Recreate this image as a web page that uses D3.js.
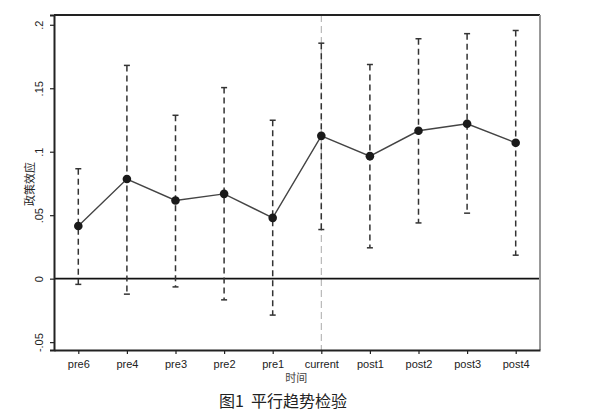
<!DOCTYPE html>
<html><head><meta charset="utf-8">
<script src="https://cdn.jsdelivr.net/npm/d3@7"></script>
<style>body{margin:0;background:#fff}</style>
</head><body><svg id="c" width="600" height="417"></svg>
<script>
const categories = ["pre6","pre4","pre3","pre2","pre1","current","post1","post2","post3","post4"];
const estimates = [0.0415,0.0785,0.0616,0.0668,0.0479,0.1125,0.0965,0.1165,0.122,0.107];
const upperCI = [0.0866,0.168,0.1287,0.1505,0.1248,0.1855,0.1687,0.189,0.193,0.1955];
const lowerCI = [-0.0045,-0.0122,-0.0065,-0.0167,-0.0287,0.0387,0.0243,0.0439,0.0516,0.0185];
const yTicks = [-0.05,0,0.05,0.1,0.15,0.2];
const yTickLabels = ["-.05","0",".05",".1",".15",".2"];
const yLabel = "政策效应";
const xLabel = "时间";
const caption = "图1  平行趋势检验";

const svg = d3.select("#c");
const L=54, R=540, T=15, B=350;
const x = d3.scalePoint().domain(categories).range([L,R]).padding(0.5);
const y = d3.scaleLinear().domain([-0.0562,0.2077]).range([B,T]);
const font = "'Liberation Sans', Arial, sans-serif";
const cjk = "'Noto Sans CJK SC', sans-serif";

// vertical reference line at current
svg.append("line").attr("x1",x("current")).attr("x2",x("current")).attr("y1",T).attr("y2",B)
  .attr("stroke","#aaa").attr("stroke-width",1).attr("stroke-dasharray","7,4");

// zero line
svg.append("line").attr("x1",L).attr("x2",R).attr("y1",y(0)).attr("y2",y(0))
  .attr("stroke","#111").attr("stroke-width",1.6);

const data = categories.map((c,i)=>({c, e:estimates[i], lo:lowerCI[i], hi:upperCI[i]}));

// CI bars
const g = svg.append("g");
g.selectAll(".ci").data(data).enter().append("line")
  .attr("x1",d=>x(d.c)).attr("x2",d=>x(d.c)).attr("y1",d=>y(d.hi)).attr("y2",d=>y(d.lo))
  .attr("stroke","#333").attr("stroke-width",1.5).attr("stroke-dasharray","6,4");
g.selectAll(".capt").data(data).enter().append("line")
  .attr("x1",d=>x(d.c)-3).attr("x2",d=>x(d.c)+3).attr("y1",d=>y(d.hi)).attr("y2",d=>y(d.hi))
  .attr("stroke","#333").attr("stroke-width",1.5);
g.selectAll(".capb").data(data).enter().append("line")
  .attr("x1",d=>x(d.c)-3).attr("x2",d=>x(d.c)+3).attr("y1",d=>y(d.lo)).attr("y2",d=>y(d.lo))
  .attr("stroke","#333").attr("stroke-width",1.5);

// connecting line
svg.append("path").datum(data)
  .attr("d", d3.line().x(d=>x(d.c)).y(d=>y(d.e)))
  .attr("fill","none").attr("stroke","#444").attr("stroke-width",1.4);
svg.selectAll(".pt").data(data).enter().append("circle")
  .attr("cx",d=>x(d.c)).attr("cy",d=>y(d.e)).attr("r",4.3).attr("fill","#1a1a1a");

// frame
svg.append("line").attr("x1",L).attr("x2",R).attr("y1",T).attr("y2",T).attr("stroke","#222").attr("stroke-width",2);
svg.append("line").attr("x1",R).attr("x2",R).attr("y1",T).attr("y2",B).attr("stroke","#999").attr("stroke-width",2);

// axes
const yAxis = d3.axisLeft(y).tickValues(yTicks).tickFormat((d,i)=>yTickLabels[i]).tickSize(4).tickPadding(3);
const ya = svg.append("g").attr("transform",`translate(${L},0)`).call(yAxis);
ya.select(".domain").attr("stroke","#222").attr("stroke-width",2);
ya.selectAll(".tick line").attr("stroke","#222").attr("stroke-width",1.2);
ya.selectAll(".tick text").attr("font-family",font).attr("font-size",11).attr("fill","#222")
  .attr("transform",function(){return "";})
  .each(function(d){
    const t=d3.select(this);
    t.attr("text-anchor","middle").attr("x",null).attr("dy",null)
     .attr("transform",`translate(-11,0) rotate(-90)`);
  });

const xAxis = d3.axisBottom(x).tickSize(4).tickPadding(6).tickSizeOuter(0);
const xa = svg.append("g").attr("transform",`translate(0,${B})`).call(xAxis);
xa.select(".domain").attr("stroke","#222").attr("stroke-width",2);
xa.selectAll(".tick line").attr("stroke","#222").attr("stroke-width",1.2);
xa.selectAll(".tick text").attr("font-family",font).attr("font-size",11).attr("fill","#222");

// labels
svg.append("text").attr("transform",`translate(34,184) rotate(-90)`).attr("text-anchor","middle")
  .attr("font-family",cjk).attr("font-size",11).attr("fill","#222").text(yLabel);
svg.append("text").attr("x",x("current")-25).attr("y",382).attr("text-anchor","middle")
  .attr("font-family",cjk).attr("font-size",11).attr("fill","#444").text(xLabel);
svg.append("text").attr("x",283).attr("y",407).attr("text-anchor","middle")
  .attr("font-family",cjk).attr("font-size",16).attr("fill","#222").attr("xml:space","preserve").text(caption);
</script></body></html>
